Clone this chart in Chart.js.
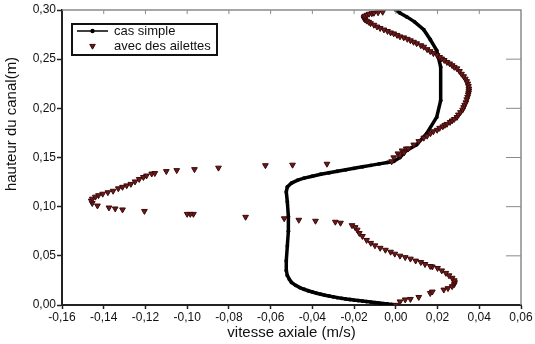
<!DOCTYPE html>
<html>
<head>
<meta charset="utf-8">
<script src="https://cdn.jsdelivr.net/npm/chart.js@4.4.0/dist/chart.umd.min.js"></script>
<style>
  html, body { margin: 0; padding: 0; background: #fff; }
  #wrap { width: 535px; height: 344px; }
</style>
</head>
<body>
<div id="wrap"><canvas id="c"></canvas></div>
<script>
// ----- données -----
const xTicks = { min: -0.16, max: 0.06, step: 0.02 };
const yTicks = { min: 0, max: 0.30, step: 0.05 };

const labels = ['cas simple', 'avec des ailettes'];

// cas simple : vitesse (m/s) / hauteur (m)
const simpleV = [
  0.000, -0.002, -0.004, -0.006, -0.008, -0.010, -0.012, -0.014, -0.016, -0.018,
  -0.020, -0.022, -0.024, -0.026, -0.028, -0.030, -0.032, -0.034, -0.036, -0.038,
  -0.040, -0.042, -0.044, -0.046, -0.048, -0.050, -0.051, -0.052, -0.0525, -0.0525,
  -0.052, -0.0515, -0.0515, -0.052, -0.0525, -0.052, -0.050, -0.047, -0.044, -0.040,
  -0.036, -0.032, -0.028, -0.024, -0.020, -0.016, -0.012, -0.008, -0.004, -0.001,
  0.002, 0.005, 0.010, 0.0148, 0.0196, 0.0215, 0.0215, 0.0196, 0.0165, 0.0134,
  0.009, 0.0053, 0.002, 0.000
];
const simpleH = [
  0.000, 0.0005, 0.001, 0.0015, 0.002, 0.0025, 0.003, 0.0035, 0.004, 0.0045,
  0.005, 0.0056, 0.0062, 0.0068, 0.0075, 0.0083, 0.0092, 0.010, 0.011, 0.012,
  0.0132, 0.0145, 0.016, 0.0177, 0.020, 0.023, 0.026, 0.030, 0.035, 0.045,
  0.060, 0.075, 0.090, 0.105, 0.115, 0.120, 0.124, 0.127, 0.129, 0.131,
  0.133, 0.1345, 0.136, 0.1375, 0.139, 0.1405, 0.142, 0.1435, 0.145, 0.146,
  0.150, 0.157, 0.163, 0.1745, 0.191, 0.208, 0.242, 0.259, 0.270, 0.280,
  0.288, 0.293, 0.297, 0.300
];

// avec des ailettes
const ailettesV = [
  0.000, 0.002, 0.0045, 0.007, 0.011, 0.0165, 0.0175, 0.023, 0.025, 0.027,
  0.028, 0.0282, 0.028, 0.027, 0.0255, 0.024, 0.022, 0.020, 0.0175, 0.0165,
  0.014, 0.012, 0.0095, 0.007, 0.0045, 0.002, -0.0005, -0.0025, -0.005, -0.0075,
  -0.010, -0.012, -0.014, -0.016, -0.0175, -0.0185, -0.0195, -0.021, -0.0265, -0.029,
  -0.0385, -0.0465, -0.0535, -0.072, -0.097, -0.0985, -0.100, -0.1205, -0.131, -0.1345,
  -0.1375, -0.143, -0.1455, -0.146, -0.1455, -0.144, -0.1425, -0.1405, -0.138, -0.1355,
  -0.133, -0.131, -0.129, -0.127, -0.125, -0.123, -0.121, -0.1195, -0.117, -0.1155,
  -0.110, -0.105, -0.0965, -0.085, -0.0625, -0.0495, -0.033, -0.002, -0.001, 0.001,
  0.003, 0.005, 0.002, 0.004, 0.006, 0.0086, 0.011, 0.0134, 0.015, 0.0166,
  0.018, 0.0198, 0.021, 0.0225, 0.0235, 0.0245, 0.026, 0.027, 0.028, 0.0293,
  0.030, 0.031, 0.032, 0.0325, 0.033, 0.0336, 0.034, 0.0344, 0.0347, 0.0349,
  0.035, 0.035, 0.0348, 0.0345, 0.034, 0.0333, 0.0325, 0.0315, 0.0305, 0.0293,
  0.028, 0.027, 0.0258, 0.0245, 0.0232, 0.022, 0.021, 0.0198, 0.018, 0.0165,
  0.015, 0.0134, 0.012, 0.010, 0.0085, 0.007, 0.0055, 0.0038, 0.002, 0.0006,
  -0.001, -0.0025, -0.004, -0.0057, -0.0075, -0.009, -0.0105, -0.0121, -0.013, -0.014,
  -0.0148, -0.0153, -0.0152, -0.0148, -0.0138, -0.0128, -0.0115, -0.0105, -0.0085, -0.0063
];
const ailettesH = [
  0.000, 0.0035, 0.0055, 0.006, 0.008, 0.012, 0.0135, 0.0155, 0.017, 0.019,
  0.021, 0.023, 0.025, 0.0275, 0.030, 0.0325, 0.035, 0.0375, 0.039, 0.0395,
  0.0415, 0.0435, 0.045, 0.047, 0.0485, 0.050, 0.052, 0.054, 0.056, 0.058,
  0.0605, 0.063, 0.066, 0.070, 0.073, 0.0765, 0.079, 0.081, 0.0835, 0.0845,
  0.0855, 0.0865, 0.088, 0.0895, 0.0925, 0.0925, 0.0925, 0.0955, 0.097, 0.098,
  0.099, 0.101, 0.1035, 0.106, 0.108, 0.110, 0.1115, 0.113, 0.1145, 0.116,
  0.1185, 0.120, 0.1215, 0.123, 0.1255, 0.128, 0.130, 0.1315, 0.1335, 0.134,
  0.136, 0.137, 0.138, 0.1395, 0.142, 0.1425, 0.1435, 0.146, 0.150, 0.154,
  0.157, 0.159, 0.152, 0.155, 0.159, 0.163, 0.1665, 0.170, 0.172, 0.1745,
  0.1765, 0.178, 0.180, 0.1815, 0.183, 0.184, 0.186, 0.1875, 0.189, 0.191,
  0.1935, 0.196, 0.1985, 0.201, 0.2035, 0.206, 0.209, 0.2115, 0.214, 0.216,
  0.218, 0.220, 0.2225, 0.225, 0.2275, 0.230, 0.2325, 0.235, 0.2378, 0.2405,
  0.242, 0.2437, 0.2455, 0.247, 0.249, 0.2505, 0.252, 0.254, 0.256, 0.258,
  0.260, 0.2625, 0.264, 0.266, 0.2675, 0.269, 0.2705, 0.272, 0.273, 0.2745,
  0.276, 0.277, 0.2785, 0.280, 0.2815, 0.283, 0.2848, 0.2864, 0.2878, 0.289,
  0.2903, 0.2915, 0.293, 0.294, 0.295, 0.296, 0.2965, 0.297, 0.2975, 0.298
];

const FONT = "'Liberation Sans', Arial, sans-serif";
const toPts = (xs, ys) => xs.map((v, i) => ({ x: v, y: ys[i] }));
const fmt = (v) => (Math.abs(v) < 1e-9 ? 0 : v).toFixed(2).replace('.', ',');

// cadre haut / droite avec petites graduations, titre y et légende
const framePlugin = {
  id: 'frame',
  afterDatasetsDraw(chart) {
    const { ctx, chartArea: a, scales } = chart;
    ctx.save();
    ctx.strokeStyle = '#8a8a8a';
    ctx.lineWidth = 1.5;
    ctx.beginPath();
    ctx.moveTo(a.left, a.top);
    ctx.lineTo(a.right, a.top);
    ctx.lineTo(a.right, a.bottom);
    ctx.stroke();
    ctx.lineWidth = 1;
    scales.x.ticks.forEach(t => {
      const px = scales.x.getPixelForValue(t.value);
      if (px <= a.left + 1 || px >= a.right - 1) return;
      ctx.beginPath();
      ctx.moveTo(px, a.top);
      ctx.lineTo(px, a.top + 4);
      ctx.stroke();
    });
    scales.y.ticks.forEach(t => {
      const py = scales.y.getPixelForValue(t.value);
      if (py <= a.top + 1 || py >= a.bottom - 1) return;
      ctx.beginPath();
      ctx.moveTo(a.right - 15, py);
      ctx.lineTo(a.right, py);
      ctx.stroke();
    });
    ctx.restore();
  },
  afterDraw(chart) {
    const { ctx, chartArea: a } = chart;
    ctx.save();
    ctx.translate(12, 124);
    ctx.rotate(-Math.PI / 2);
    ctx.fillStyle = '#111';
    ctx.font = '15px ' + FONT;
    ctx.textAlign = 'center';
    ctx.textBaseline = 'middle';
    ctx.fillText('hauteur du canal(m)', 0, 0);
    ctx.restore();

    // légende
    ctx.save();
    const bx = a.left + 10, by = a.top + 14, bw = 145, bh = 31;
    ctx.fillStyle = '#fff';
    ctx.fillRect(bx, by, bw, bh);
    ctx.strokeStyle = '#111';
    ctx.lineWidth = 2;
    ctx.strokeRect(bx, by, bw, bh);
    const ds = chart.data.datasets;
    ctx.font = '13px ' + FONT;
    ctx.textBaseline = 'middle';
    // cas simple
    let ry = by + 7;
    ctx.strokeStyle = '#000';
    ctx.lineWidth = 1.5;
    ctx.beginPath();
    ctx.moveTo(bx + 5, ry);
    ctx.lineTo(bx + 36, ry);
    ctx.stroke();
    ctx.beginPath();
    ctx.arc(bx + 20.5, ry, 2.2, 0, Math.PI * 2);
    ctx.fillStyle = '#000';
    ctx.fill();
    ctx.fillStyle = '#111';
    ctx.fillText(ds[0].label, bx + 42, ry);
    // avec des ailettes
    ry = by + 22;
    const r = 3.2;
    ctx.fillStyle = ds[1].backgroundColor;
    ctx.strokeStyle = ds[1].borderColor;
    ctx.lineWidth = 1;
    ctx.beginPath();
    ctx.moveTo(bx + 20.5, ry + r);
    ctx.lineTo(bx + 20.5 - r * 0.866, ry - r / 2);
    ctx.lineTo(bx + 20.5 + r * 0.866, ry - r / 2);
    ctx.closePath();
    ctx.fill();
    ctx.stroke();
    ctx.fillStyle = '#111';
    ctx.fillText(ds[1].label, bx + 42, ry);
    ctx.restore();
  }
};

new Chart(document.getElementById('c'), {
  type: 'scatter',
  data: {
    datasets: [
      {
        label: labels[0],
        data: toPts(simpleV, simpleH),
        showLine: true,
        borderColor: '#000',
        borderWidth: 3.5,
        pointRadius: 1.9,
        pointBackgroundColor: '#000',
        pointBorderWidth: 0,
        order: 2,
      },
      {
        label: labels[1],
        data: toPts(ailettesV, ailettesH),
        showLine: false,
        pointStyle: 'triangle',
        rotation: 180,
        pointRadius: 3.3,
        backgroundColor: '#6b1a1a',
        borderColor: '#3a0808',
        borderWidth: 1,
        order: 1,
      },
    ],
  },
  options: {
    responsive: true,
    maintainAspectRatio: false,
    animation: false,
    layout: { padding: { top: 10, right: 14, left: 0, bottom: 0 } },
    plugins: {
      legend: { display: false },
      tooltip: { enabled: false },
    },
    scales: {
      x: {
        type: 'linear',
        min: xTicks.min,
        max: xTicks.max,
        afterFit: (s) => { s.height = 39; },
        ticks: {
          stepSize: xTicks.step,
          color: '#111',
          font: { family: FONT, size: 12 },
          padding: 1,
          maxRotation: 0,
          callback: fmt,
        },
        grid: { drawOnChartArea: false, drawTicks: true, tickLength: 4, tickColor: '#222', tickWidth: 1.5 },
        border: { color: '#222', width: 2 },
        title: {
          display: true,
          text: 'vitesse axiale (m/s)',
          color: '#111',
          font: { family: FONT, size: 15 },
          padding: { top: 0, bottom: 2 },
        },
      },
      y: {
        type: 'linear',
        min: yTicks.min,
        max: yTicks.max,
        afterFit: (s) => { s.width = 62; },
        ticks: {
          stepSize: yTicks.step,
          color: '#111',
          font: { family: FONT, size: 12 },
          padding: 1,
          callback: fmt,
        },
        grid: { drawOnChartArea: false, drawTicks: true, tickLength: 5, tickColor: '#222', tickWidth: 1.5 },
        border: { color: '#222', width: 2 },
      },
    },
  },
  plugins: [framePlugin],
});
</script>
</body>
</html>
